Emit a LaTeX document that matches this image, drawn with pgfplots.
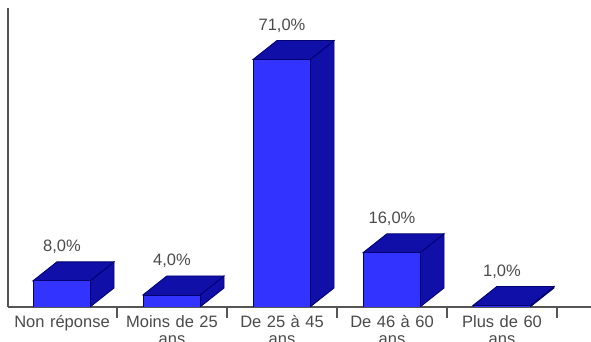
\documentclass[border=0pt]{standalone}
\usepackage{pgfplots}
\pgfplotsset{compat=1.18}
\usepackage{fontspec}
\setmainfont{Liberation Sans}
\definecolor{barfront}{HTML}{3333FF}
\definecolor{barshade}{HTML}{1010A8}
\definecolor{baredge}{HTML}{000070}
\definecolor{axisgray}{HTML}{555555}
\definecolor{textgray}{HTML}{4A4A4A}
\begin{document}
\begin{tikzpicture}[x=1pt,y=1pt]
\path[use as bounding box] (0,0) rectangle (591,342);
\begin{axis}[
  at={(8pt,35pt)}, anchor=south west,
  scale only axis, width=583pt, height=299pt,
  xmin=-0.491, xmax=4.809, ymin=0.57, ymax=85.68,
  axis x line=bottom, axis y line=left,
  axis line style={-, color=axisgray, line width=1.3pt},
  ytick=\empty,
  xtick={0,1,2,3,4},
  xticklabels={Non réponse,Moins de 25\\ans,De 25 à 45\\ans,De 46 à 60\\ans,Plus de 60\\ans},
  minor xtick={0.5,1.5,2.5,3.5,4.5},
  major tick length=0pt, minor tick length=11pt,
  tick align=outside,
  minor tick style={color=axisgray, line width=1.3pt},
  xticklabel style={font=\fontsize{16.5}{17}\selectfont, text=textgray, align=center, text width=108pt, yshift=-5pt},
  /pgf/number format/assume math mode=true,
  /pgf/number format/fixed,
  /pgf/number format/fixed zerofill,
  /pgf/number format/precision=1,
  /pgf/number format/use comma,
  every node near coord/.append style={anchor=center, yshift=34pt, text=textgray, font=\fontsize{16.5}{18}\selectfont},
]
% Side and top faces of each bar, drawn behind the front faces
\addplot[fill=barshade, draw=baredge, line width=0.8pt] coordinates {(0.255,0.57) (0.473,5.98) (0.473,13.41) (0.255,8)} -- cycle;
\addplot[fill=barshade, draw=baredge, line width=0.8pt] coordinates {(-0.265,8) (-0.047,13.41) (0.473,13.41) (0.255,8)} -- cycle;

\addplot[fill=barshade, draw=baredge, line width=0.8pt] coordinates {(1.255,0.57) (1.473,5.98) (1.473,9.41) (1.255,4)} -- cycle;
\addplot[fill=barshade, draw=baredge, line width=0.8pt] coordinates {(0.735,4) (0.953,9.41) (1.473,9.41) (1.255,4)} -- cycle;

\addplot[fill=barshade, draw=baredge, line width=0.8pt] coordinates {(2.255,0.57) (2.473,5.98) (2.473,76.41) (2.255,71)} -- cycle;
\addplot[fill=barshade, draw=baredge, line width=0.8pt] coordinates {(1.735,71) (1.953,76.41) (2.473,76.41) (2.255,71)} -- cycle;

\addplot[fill=barshade, draw=baredge, line width=0.8pt] coordinates {(3.255,0.57) (3.473,5.98) (3.473,21.41) (3.255,16)} -- cycle;
\addplot[fill=barshade, draw=baredge, line width=0.8pt] coordinates {(2.735,16) (2.953,21.41) (3.473,21.41) (3.255,16)} -- cycle;

\addplot[fill=barshade, draw=baredge, line width=0.8pt] coordinates {(4.255,0.57) (4.473,5.98) (4.473,6.41) (4.255,1)} -- cycle;
\addplot[fill=barshade, draw=baredge, line width=0.8pt] coordinates {(3.735,1) (3.953,6.41) (4.473,6.41) (4.255,1)} -- cycle;

% Front faces, carrying the percentage labels
\addplot[ybar, bar width=57pt, bar shift=-0.5pt, fill=barfront, draw=baredge, line width=0.8pt,
  nodes near coords={\pgfmathprintnumber{\pgfplotspointmeta}\%},
] coordinates {(0,8) (1,4) (2,71) (3,16) (4,1)};
\end{axis}
\end{tikzpicture}
\end{document}
